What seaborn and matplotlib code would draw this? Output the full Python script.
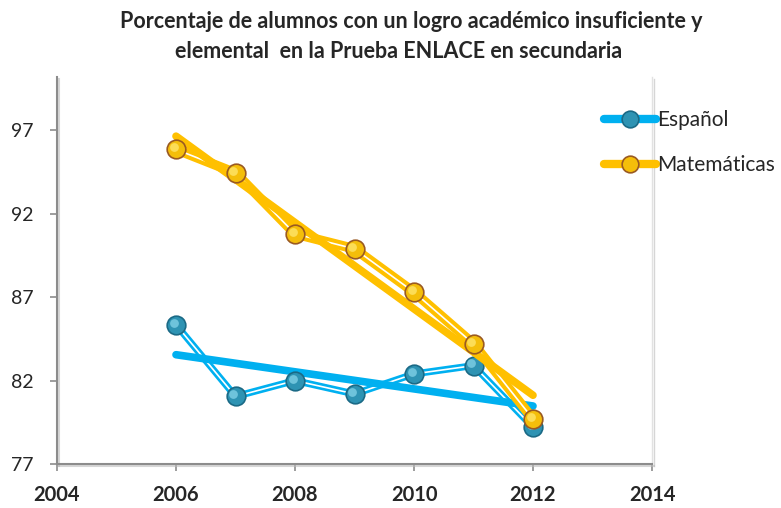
import matplotlib
matplotlib.use("Agg")
import numpy as np
import pandas as pd
import seaborn as sns
import matplotlib.pyplot as plt
import matplotlib.patheffects as pe
import matplotlib.transforms as mtransforms
from matplotlib.lines import Line2D

# ---------------- data ----------------
years = [2006, 2007, 2008, 2009, 2010, 2011, 2012]
espanol = [85.35, 81.05, 82.0, 81.2, 82.4, 82.9, 79.2]
matematicas = [95.86, 94.45, 90.8, 89.9, 87.3, 84.2, 79.7]
series_names = ["Español", "Matemáticas"]
title_lines = ["Porcentaje de alumnos con un logro académico insuficiente y",
               "elemental  en la Prueba ENLACE en secundaria"]
y_ticks = [77, 82, 87, 92, 97]
x_ticks = [2004, 2006, 2008, 2010, 2012, 2014]

# ---------------- style ----------------
sns.set_theme(style="white")
plt.rcParams["font.family"] = ["Lato", "DejaVu Sans"]

line_colors = {"Español": "#00B0F0", "Matemáticas": "#FFC000"}
marker_face = {"Español": "#2E93B3", "Matemáticas": "#F4BE0A"}
marker_edge = {"Español": "#1B6A86", "Matemáticas": "#9A5A22"}
marker_hi = {"Español": "#7FD0E6", "Matemáticas": "#FFE56A"}
data_lw = {"Español": 5.0, "Matemáticas": 7.0}

df = pd.DataFrame({
    "year": years * 2,
    "value": espanol + matematicas,
    "serie": [series_names[0]] * len(years) + [series_names[1]] * len(years),
})

fig = plt.figure(figsize=(7.81, 5.08), dpi=100)
fig.patch.set_facecolor("white")
ax = fig.add_axes([57 / 781, 1 - 464 / 508, (652 - 57) / 781, (464 - 77) / 508])
ax.set_facecolor("white")

base_z = {"Español": 2, "Matemáticas": 6}
for name in series_names:
    sub = df[df["serie"] == name]
    z = base_z[name]
    # double (compound) data line
    sns.lineplot(data=sub, x="year", y="value", ax=ax, color=line_colors[name],
                 lw=data_lw[name], zorder=z, legend=False)
    sns.lineplot(data=sub, x="year", y="value", ax=ax, color="white",
                 lw=1.2, zorder=z + 0.1, legend=False)

for name in series_names:
    sub = df[df["serie"] == name]
    # linear trendline
    sns.regplot(data=sub, x="year", y="value", ax=ax, scatter=False, ci=None,
                truncate=True,
                line_kws=dict(color=line_colors[name], lw=5.5,
                              solid_capstyle="round", zorder=base_z[name] + 1))

hi_offset = mtransforms.offset_copy(ax.transData, fig=fig, x=-1.5, y=1.5, units="points")
for name in series_names:
    sub = df[df["serie"] == name]
    z = base_z[name] + 2
    sns.scatterplot(data=sub, x="year", y="value", ax=ax, s=180,
                    color=marker_face[name], edgecolor=marker_edge[name],
                    linewidth=1.2, zorder=z, legend=False)
    ax.scatter(sub["year"], sub["value"], s=40, color=marker_hi[name],
               linewidth=0, alpha=0.8, zorder=z + 0.1, transform=hi_offset)

# ---------------- axes ----------------
ax.set_xlim(2004, 2014)
ax.set_ylim(77, 100.2)
ax.set_xticks(x_ticks)
ax.set_yticks(y_ticks)
ax.set_xticklabels([str(t) for t in x_ticks], fontsize=14.5, fontweight="bold")
ax.set_yticklabels([str(t) for t in y_ticks], fontsize=14)
ax.set_xlabel("")
ax.set_ylabel("")
ax.tick_params(axis="y", direction="out", length=5, width=1.2, color="#8c8c8c",
               pad=12, left=True)
ax.tick_params(axis="x", direction="out", length=5, width=1.2, color="#8c8c8c",
               pad=10, bottom=True)

shadow = [pe.SimpleLineShadow(offset=(1.5, -1.5), shadow_color="#bbbbbb", alpha=0.6),
          pe.Normal()]
for s in ["left", "bottom"]:
    ax.spines[s].set_color("#8c8c8c")
    ax.spines[s].set_linewidth(1.5)
    ax.spines[s].set_path_effects(shadow)
ax.spines["right"].set_color("#e2e2e2")
ax.spines["right"].set_linewidth(1.0)
ax.spines["right"].set_path_effects(shadow)
ax.spines["top"].set_visible(False)

# ---------------- legend ----------------
handles = [Line2D([], [], color=line_colors[n], lw=6, solid_capstyle="round",
                  marker="o", ms=12, mfc=marker_face[n], mec=marker_edge[n], mew=1.2)
           for n in series_names]
fig.legend(handles, series_names, loc="upper left",
           bbox_to_anchor=(604 / 781, 1 - 110 / 508), frameon=False,
           fontsize=15, handlelength=2.5, handletextpad=0.05, labelspacing=1.2,
           borderpad=0, borderaxespad=0)

# ---------------- title ----------------
fig.text(411 / 781, 1 - 21 / 508, title_lines[0], ha="center", va="center",
         fontsize=15.5, fontweight="bold")
fig.text(399 / 781, 1 - 51 / 508, title_lines[1], ha="center", va="center",
         fontsize=15.5, fontweight="bold")

fig.savefig("out.png", dpi=100, facecolor="white")
